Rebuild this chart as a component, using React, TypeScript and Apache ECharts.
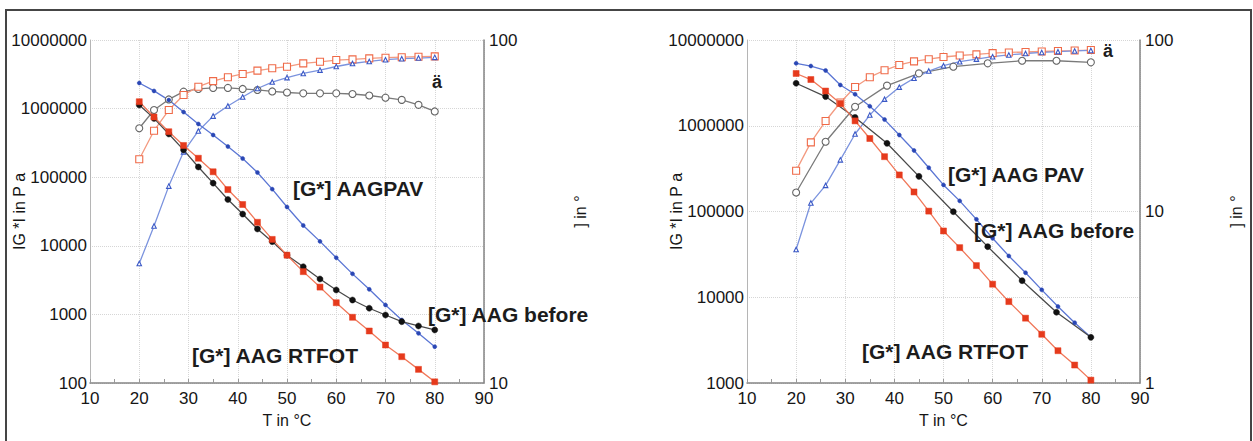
import { useEffect, useRef } from "react";
import * as echarts from "echarts";

// Temperature sweeps in °C
const T_SWEEP = [20, 23, 26, 29, 32, 35, 38, 41, 44, 47, 50, 53.3, 56.7, 60, 63.3, 66.7, 70, 73.3, 76.7, 80];
const T_SWEEP_COARSE = [20, 26, 32, 38.5, 45, 52, 59, 66, 73, 80];

// Axis ticks
const X_TICKS = { min: 10, max: 90, step: 10 };

// Left panel: |G*| in Pa
const L_G_RTFOT = [1.26e6, 7.55e5, 4.6e5, 2.9e5, 1.89e5, 1.2e5, 6.6e4, 4.0e4, 2.2e4, 1.24e4, 7300, 4200, 2500, 1480, 908, 573, 358, 242, 158, 104];
const L_G_BEFORE = [1.13e6, 7.2e5, 4.27e5, 2.5e5, 1.41e5, 8.2e4, 4.73e4, 2.9e4, 1.76e4, 1.15e4, 7300, 4950, 3280, 2270, 1620, 1230, 980, 783, 678, 593];
const L_G_PAV = [2.36e6, 1.81e6, 1.33e6, 8.9e5, 5.97e5, 4.12e5, 2.8e5, 1.87e5, 1.17e5, 6.7e4, 3.68e4, 1.98e4, 1.16e4, 6700, 3900, 2320, 1370, 828, 530, 338];
// Left panel: phase angle in °
const L_D_RTFOT = [44.9, 54.4, 62.5, 69.1, 73.1, 75.9, 77.9, 79.6, 81.4, 82.7, 83.6, 85.5, 86.4, 87.4, 87.8, 88.4, 88.8, 89.1, 89.4, 89.6];
const L_D_BEFORE = [55.3, 62.5, 67.1, 70.7, 72.0, 72.5, 72.5, 72.0, 71.5, 70.8, 70.3, 69.9, 69.9, 69.9, 69.6, 68.9, 67.9, 66.9, 64.7, 61.9];
const L_D_PAV = [22.3, 28.7, 37.5, 47.2, 54.3, 60.0, 64.2, 68.2, 72.2, 75.4, 77.7, 79.9, 81.7, 83.7, 85.4, 86.6, 87.6, 88.2, 88.6, 89.0];

// Right panel: |G*| in Pa
const R_G_RTFOT = [4.07e6, 3.46e6, 2.54e6, 1.82e6, 1.14e6, 7.1e5, 4.36e5, 2.67e5, 1.69e5, 1.01e5, 5.93e4, 3.79e4, 2.34e4, 1.42e4, 8900, 5700, 3700, 2380, 1620, 1080];
const R_G_BEFORE = [3.13e6, 2.19e6, 1.25e6, 6.24e5, 2.57e5, 9.95e4, 3.89e4, 1.56e4, 6680, 3410];
const R_G_PAV = [5.35e6, 4.97e6, 4.41e6, 2.99e6, 2.33e6, 1.69e6, 1.18e6, 7.8e5, 5.15e5, 3.24e5, 2.04e5, 1.33e5, 8.1e4, 4.87e4, 3.03e4, 1.93e4, 1.22e4, 7800, 5050, 3410];
// Right panel: phase angle in °
const R_D_RTFOT = [17.3, 25.3, 33.7, 43.2, 53.2, 60.7, 66.6, 71.5, 75.1, 77.3, 79.6, 81.2, 82.5, 83.8, 84.6, 85.1, 85.7, 86.3, 86.8, 87.4];
const R_D_BEFORE = [12.9, 25.5, 40.8, 54.2, 63.9, 69.9, 73.1, 75.7, 75.7, 74.1];
const R_D_PAV = [6.0, 11.2, 14.2, 20.0, 28.3, 36.5, 45.2, 53.1, 59.8, 65.9, 70.8, 74.7, 77.4, 79.9, 81.8, 83.4, 84.6, 85.5, 86.3, 86.9];

const FONT = '"Liberation Sans", Arial, Helvetica, sans-serif';
const INK = "#161616";

type Look = {
  symbol: string;
  size: number;
  line: string;
  marker: string;
  hollow?: boolean;
};

const LOOK_RTFOT: Look = { symbol: "rect", size: 6, line: "#f0785a", marker: "#e63a1c" };
const LOOK_BEFORE: Look = { symbol: "circle", size: 6, line: "#4a4a4a", marker: "#111111" };
const LOOK_PAV: Look = { symbol: "circle", size: 4, line: "#5b76d4", marker: "#2a47b5" };
const LOOK_D_RTFOT: Look = { symbol: "rect", size: 7, line: "#f39a80", marker: "#ef6a48", hollow: true };
const LOOK_D_BEFORE: Look = { symbol: "circle", size: 7, line: "#7a7a7a", marker: "#666666", hollow: true };
const LOOK_D_PAV: Look = { symbol: "triangle", size: 4.5, line: "#7b93de", marker: "#3a58c6", hollow: true };

function line(name: string, xs: number[], ys: number[], xi: number, yi: number, look: Look) {
  return {
    name,
    type: "line",
    xAxisIndex: xi,
    yAxisIndex: yi,
    data: xs.map((x, i) => [x, ys[i]]),
    symbol: look.symbol,
    symbolSize: look.size,
    showSymbol: true,
    lineStyle: { color: look.line, width: 1.3 },
    itemStyle: look.hollow
      ? { color: "#ffffff", borderColor: look.marker, borderWidth: 1.1 }
      : { color: look.marker, borderColor: look.marker, borderWidth: 0.5 },
    emphasis: { disabled: true },
  };
}

function xAxis(gridIndex: number) {
  return {
    gridIndex,
    type: "value",
    min: X_TICKS.min,
    max: X_TICKS.max,
    interval: X_TICKS.step,
    name: "T in °C",
    nameLocation: "middle",
    nameGap: 29,
    nameMoveOverlap: false,
    nameTextStyle: { fontSize: 16, color: INK, fontFamily: FONT },
    axisLine: { show: true, lineStyle: { color: "#858585", width: 1.5 } },
    axisTick: { show: true, inside: true, length: 4, lineStyle: { color: "#999" } },
    minorTick: { show: true, splitNumber: 2, length: 4, lineStyle: { color: "#999" } },
    splitLine: { show: true, lineStyle: { type: "dotted", color: "#d6d6d6", width: 1 } },
    axisLabel: { fontSize: 17, color: INK, fontFamily: FONT, margin: 7 },
  };
}

const intLabel = (v: number) => String(Math.round(v));

function gAxis(gridIndex: number, min: number, max: number) {
  return {
    gridIndex,
    type: "log",
    logBase: 10,
    min,
    max,
    position: "left",
    name: "IG *I in P a",
    nameLocation: "middle",
    nameGap: 63,
    nameMoveOverlap: false,
    nameTextStyle: { fontSize: 16, color: INK, fontFamily: FONT },
    axisLine: { show: true, lineStyle: { color: "#b5b5b5", width: 1 } },
    axisTick: { show: false },
    splitLine: { show: true, lineStyle: { type: "dotted", color: "#d6d6d6", width: 1 } },
    axisLabel: { fontSize: 17, color: INK, fontFamily: FONT, margin: 3, formatter: intLabel },
  };
}

function dAxis(gridIndex: number, min: number, max: number) {
  return {
    gridIndex,
    type: "log",
    logBase: 10,
    min,
    max,
    position: "right",
    name: "] in °",
    nameLocation: "middle",
    nameGap: 88,
    nameMoveOverlap: false,
    nameTextStyle: { fontSize: 16, color: INK, fontFamily: FONT },
    axisLine: { show: true, lineStyle: { color: "#858585", width: 1.5 } },
    axisTick: { show: false },
    splitLine: { show: false },
    axisLabel: { fontSize: 17, color: INK, fontFamily: FONT, margin: 5, formatter: intLabel },
  };
}

function note(text: string, x: number, y: number, size = 21) {
  return {
    type: "text",
    x,
    y,
    silent: true,
    z: 50,
    style: {
      text,
      fill: "#1c1c1c",
      font: `bold ${size}px ${FONT}`,
      verticalAlign: "middle",
      align: "left",
    },
  };
}

export default function App() {
  const ref = useRef<HTMLDivElement>(null);

  useEffect(() => {
    if (!ref.current) return;
    const chart = echarts.init(ref.current, undefined, { renderer: "svg" });
    chart.setOption({
      animation: false,
      backgroundColor: "#ffffff",
      grid: [
        { left: 90, top: 40, width: 394, height: 343, outerBoundsMode: "none", containLabel: false },
        { left: 747, top: 40, width: 393, height: 343, outerBoundsMode: "none", containLabel: false },
      ],
      xAxis: [xAxis(0), xAxis(1)],
      yAxis: [gAxis(0, 100, 1e7), dAxis(0, 10, 100), gAxis(1, 1000, 1e7), dAxis(1, 1, 100)],
      series: [
        line("δ AAG before", T_SWEEP, L_D_BEFORE, 0, 1, LOOK_D_BEFORE),
        line("δ AAG RTFOT", T_SWEEP, L_D_RTFOT, 0, 1, LOOK_D_RTFOT),
        line("δ AAG PAV", T_SWEEP, L_D_PAV, 0, 1, LOOK_D_PAV),
        line("[G*] AAG PAV", T_SWEEP, L_G_PAV, 0, 0, LOOK_PAV),
        line("[G*] AAG before", T_SWEEP, L_G_BEFORE, 0, 0, LOOK_BEFORE),
        line("[G*] AAG RTFOT", T_SWEEP, L_G_RTFOT, 0, 0, LOOK_RTFOT),

        line("δ AAG before", T_SWEEP_COARSE, R_D_BEFORE, 1, 3, LOOK_D_BEFORE),
        line("δ AAG RTFOT", T_SWEEP, R_D_RTFOT, 1, 3, LOOK_D_RTFOT),
        line("δ AAG PAV", T_SWEEP, R_D_PAV, 1, 3, LOOK_D_PAV),
        line("[G*] AAG PAV", T_SWEEP, R_G_PAV, 1, 2, LOOK_PAV),
        line("[G*] AAG before", T_SWEEP_COARSE, R_G_BEFORE, 1, 2, LOOK_BEFORE),
        line("[G*] AAG RTFOT", T_SWEEP, R_G_RTFOT, 1, 2, LOOK_RTFOT),
      ],
      graphic: [
        {
          type: "rect",
          silent: true,
          z: 100,
          shape: { x: 6, y: 10, width: 1245, height: 445 },
          style: { fill: "none", stroke: "#454545", lineWidth: 2 },
        },
        note("[G*] AAGPAV", 293, 188),
        note("[G*] AAG before", 428, 314),
        note("[G*] AAG RTFOT", 192, 355),
        note("ä", 432, 82, 18),
        note("[G*] AAG PAV", 948, 174),
        note("[G*] AAG before", 974, 230),
        note("[G*] AAG RTFOT", 862, 351),
        note("ä", 1103, 51, 18),
      ],
    });
    return () => chart.dispose();
  }, []);

  return (
    <div
      ref={ref}
      style={{ position: "fixed", left: 0, top: 0, width: 1253, height: 441, background: "#fff" }}
    />
  );
}
